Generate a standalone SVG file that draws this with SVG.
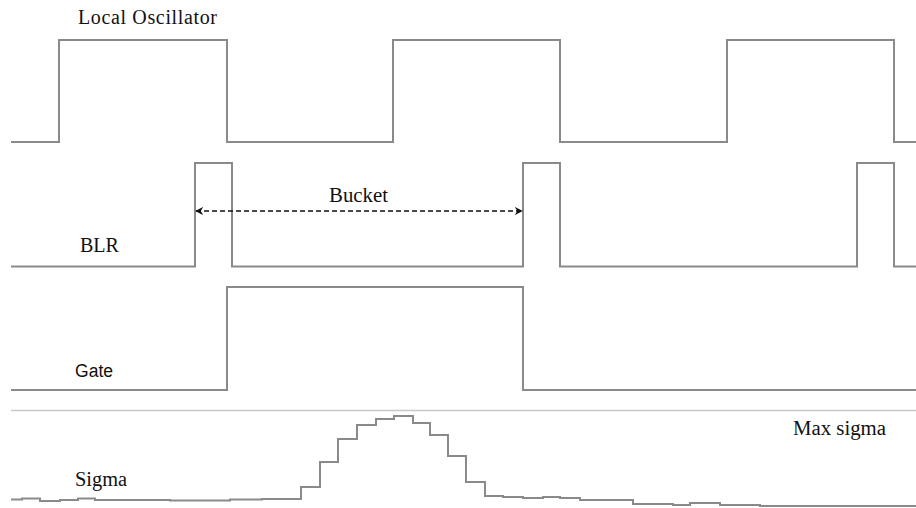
<svg xmlns="http://www.w3.org/2000/svg" width="916" height="508" viewBox="0 0 916 508">
  <defs>
    <style>
      .sig { fill: none; stroke: #8a8a8a; stroke-width: 2; }
      .lbl { font-family: "Liberation Serif", "DejaVu Serif", serif; font-size: 20px; fill: #111; }
      .lbls { font-family: "Liberation Sans", "DejaVu Sans", sans-serif; font-size: 18px; fill: #111; }
      .sep { stroke: #c8c8c8; stroke-width: 1.5; }
      .bucket { stroke: #111; stroke-width: 1.5; stroke-dasharray: 5 3; fill: none; }
    </style>
    <marker id="ah" viewBox="0 0 10 10" refX="9" refY="5" markerWidth="8" markerHeight="8" markerUnits="userSpaceOnUse" orient="auto-start-reverse">
      <path d="M0,0 L10,5 L0,10 L3,5 Z" fill="#111"/>
    </marker>
  </defs>
  <rect width="916" height="508" fill="#ffffff"/>

  <g id="local-oscillator">
    <path class="sig" d="M11,142 H59 V40 H227 V142 H393 V40 H560 V142 H727 V40 H894 V142 H916"/>
    <text class="lbl" x="78" y="24" textLength="139" lengthAdjust="spacing">Local Oscillator</text>
  </g>

  <g id="blr">
    <path class="sig" d="M11,266.5 H195 V163 H232 V266.5 H523 V163 H560 V266.5 H857 V163 H894 V266.5 H916"/>
    <text class="lbl" x="80" y="252" textLength="39" lengthAdjust="spacingAndGlyphs">BLR</text>
  </g>

  <g id="gate">
    <path class="sig" d="M11,390 H227 V287 H523 V390 H916"/>
    <text class="lbls" x="75" y="377" textLength="38" lengthAdjust="spacingAndGlyphs">Gate</text>
  </g>

  <line class="sep" x1="11" y1="410.5" x2="916" y2="410.5"/>

  <g id="sigma">
    <path class="sig" d="M11,499.5 H22 V498.5 H40 V501 H60 V500 H78 V498.5 H95 V500 H170 V500.5 H230 V499.5 H262 V499 H301 V487 H320 V462 H338 V439 H357 V425 H376 V419 H394 V416 H413 V423 H430 V435 H448 V456 H466 V482 H485 V496 H503 V497 H523 V498 H543 V497 H560 V498 H580 V500 H633 V504 H673 V505 H690 V503 H720 V505 H760 V506 H916"/>
    <text class="lbl" x="75" y="486" textLength="52" lengthAdjust="spacingAndGlyphs">Sigma</text>
    <text class="lbl" x="793" y="435" textLength="93" lengthAdjust="spacingAndGlyphs">Max sigma</text>
  </g>

  <g id="connectors">
    <line class="bucket" x1="196" y1="211" x2="522" y2="211" marker-start="url(#ah)" marker-end="url(#ah)"/>
    <text class="lbl" x="329" y="202" textLength="59" lengthAdjust="spacingAndGlyphs">Bucket</text>
  </g>
</svg>
